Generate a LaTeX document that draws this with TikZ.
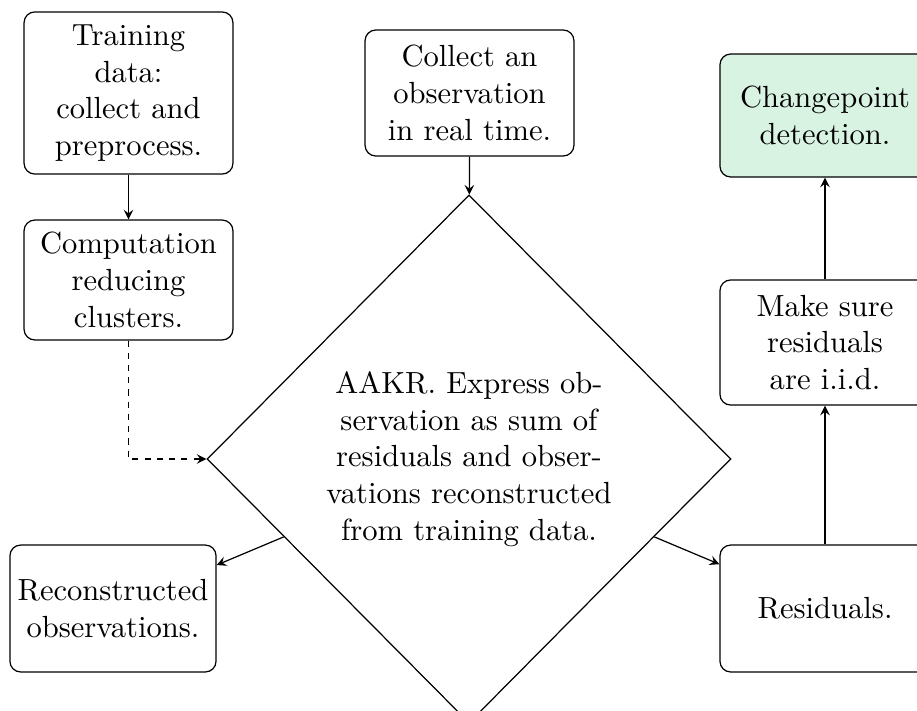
\documentclass[tikz,border=0pt]{standalone}
\usetikzlibrary{shapes.geometric,arrows}
\definecolor{mint}{RGB}{216,243,226}
\tikzset{
  box/.style={draw, rounded corners=3.5pt, align=center, inner sep=0pt},
  flow/.style={-stealth},
  dashflow/.style={-stealth, dash pattern=on 2pt off 2pt},
}
\begin{document}
\begin{tikzpicture}[x=0.327pt, y=-0.327pt]
\clip (0,0) rectangle (917,710);
\node[box, minimum width=68.3pt, minimum height=53pt] (A) at (128.5,93) {Training\\data:\\collect and\\preprocess.};
\node[box, minimum width=68.3pt, minimum height=39.2pt] (B) at (128.5,280) {Computation\\reducing\\clusters.};
\node[box, minimum width=68.3pt, minimum height=41.2pt] (C) at (469.5,93) {Collect an\\observation\\in real time.};
\node[draw, diamond, aspect=1, inner sep=0pt, align=center, minimum width=171.3pt, minimum height=172.7pt] (M) at (469,459)
  {AAKR. Express ob-\\servation as sum of\\residuals and obser-\\vations reconstructed\\from training data.};
\node[box, minimum width=67.4pt, minimum height=41.5pt] (D) at (113,608.5) {Reconstructed\\observations.};
\node[box, minimum width=68.7pt, minimum height=41.5pt] (E) at (825,608.5) {Residuals.};
\node[box, minimum width=68.7pt, minimum height=40.9pt] (F) at (825,342.5) {Make sure\\residuals\\are i.i.d.};
\node[box, fill=mint, minimum width=68.7pt, minimum height=40.2pt] (G) at (825,115.5) {Changepoint\\detection.};
\draw[flow] (A) -- (B);
\draw[flow] (C) -- (M);
\draw[dashflow] (B.south) |- (M.west);
\draw[flow] (M) -- (D);
\draw[flow] (M) -- (E);
\draw[flow] (E) -- (F);
\draw[flow] (F) -- (G);
\end{tikzpicture}
\end{document}
